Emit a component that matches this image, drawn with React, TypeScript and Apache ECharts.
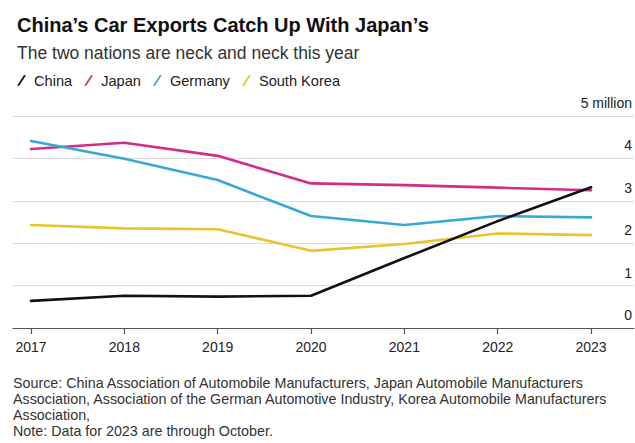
import React, { useEffect, useRef } from "react";
import * as echarts from "echarts";

const years = [2017, 2018, 2019, 2020, 2021, 2022, 2023];
const china = [0.64, 0.76, 0.74, 0.76, 1.65, 2.52, 3.32];
const japan = [4.22, 4.37, 4.06, 3.41, 3.37, 3.31, 3.25];
const germany = [4.41, 3.99, 3.49, 2.64, 2.43, 2.64, 2.61];
const southKorea = [2.43, 2.35, 2.33, 1.82, 1.98, 2.23, 2.19];
const yTicks = [0, 1, 2, 3, 4, 5];

const titleText = "China\u2019s Car Exports Catch Up With Japan\u2019s";
const subtitleText = "The two nations are neck and neck this year";
const footerLines = [
  "Source: China Association of Automobile Manufacturers, Japan Automobile Manufacturers",
  "Association, Association of the German Automotive Industry, Korea Automobile Manufacturers",
  "Association,",
  "Note: Data for 2023 are through October.",
];

const FONT = "Liberation Sans, Arial, Helvetica, sans-serif";
const slash = "path://M0,10 L2,10 L8.5,0 L6.5,0 Z";

export default function App() {
  const ref = useRef<HTMLDivElement>(null);
  useEffect(() => {
    if (!ref.current) return;
    const chart = echarts.init(ref.current, undefined, { renderer: "svg" });
    const mk = (name: string, vals: number[], color: string, z: number) => ({
      name,
      type: "line",
      data: years.map((y, i) => [y, vals[i]]),
      symbol: "none",
      z,
      lineStyle: { color, width: 2.6, cap: "round", join: "round" },
      itemStyle: { color },
    });
    chart.setOption({
      animation: false,
      backgroundColor: "#fff",
      textStyle: { fontFamily: FONT },
      title: [
        {
          text: titleText,
          left: 12,
          top: 10,
          textStyle: { fontFamily: FONT, fontSize: 20, fontWeight: "bold", color: "#111" },
        },
        {
          text: subtitleText,
          left: 12,
          top: 39,
          textStyle: { fontFamily: FONT, fontSize: 17.5, fontWeight: "normal", color: "#333" },
        },
      ],
      legend: {
        left: 12,
        top: 68,
        icon: slash,
        itemWidth: 9,
        itemHeight: 11,
        itemGap: 12,
        data: ["China", "Japan", "Germany", "South Korea"],
        textStyle: { fontFamily: FONT, fontSize: 14.6, color: "#222", padding: [0, 0, 0, 3] },
      },
      grid: { left: 13, right: 0, top: 116, bottom: 115 },
      xAxis: {
        type: "value",
        min: 2016.807,
        max: 2023.46,
        splitLine: { show: false },
        axisLine: { show: true, lineStyle: { color: "#555", width: 1.2 } },
        axisTick: { show: true, customValues: years, length: 6, lineStyle: { color: "#555", width: 1.2 } },
        axisLabel: {
          customValues: years,
          formatter: (v: number) => String(v),
          fontFamily: FONT,
          fontSize: 14,
          color: "#222",
          margin: 12,
        },
      },
      yAxis: {
        type: "value",
        position: "right",
        min: 0,
        max: 5,
        interval: 1,
        axisLine: { show: false },
        axisTick: { show: false },
        splitLine: { show: true, lineStyle: { color: "#dcdcdc", width: 1 } },
        axisLabel: {
          inside: true,
          margin: 2,
          verticalAlign: "bottom",
          padding: [0, 0, 6, 0],
          fontFamily: FONT,
          fontSize: 14,
          color: "#222",
          customValues: yTicks,
          formatter: (v: number) => (v === 5 ? "5 million" : String(v)),
        },
      },
      series: [
        mk("China", china, "#111111", 10),
        mk("Japan", japan, "#d12e8a", 7),
        mk("Germany", germany, "#35a9d8", 8),
        mk("South Korea", southKorea, "#e8c42e", 6),
      ],
      graphic: footerLines.map((t, i) => ({
        type: "text",
        left: 13,
        top: 376 + i * 16,
        style: { text: t, font: `14.3px ${FONT}`, fill: "#333" },
      })),
    });
    return () => chart.dispose();
  }, []);
  return (
    <div
      ref={ref}
      style={{ position: "fixed", left: 0, top: 0, width: 635, height: 443, background: "#fff" }}
    />
  );
}
